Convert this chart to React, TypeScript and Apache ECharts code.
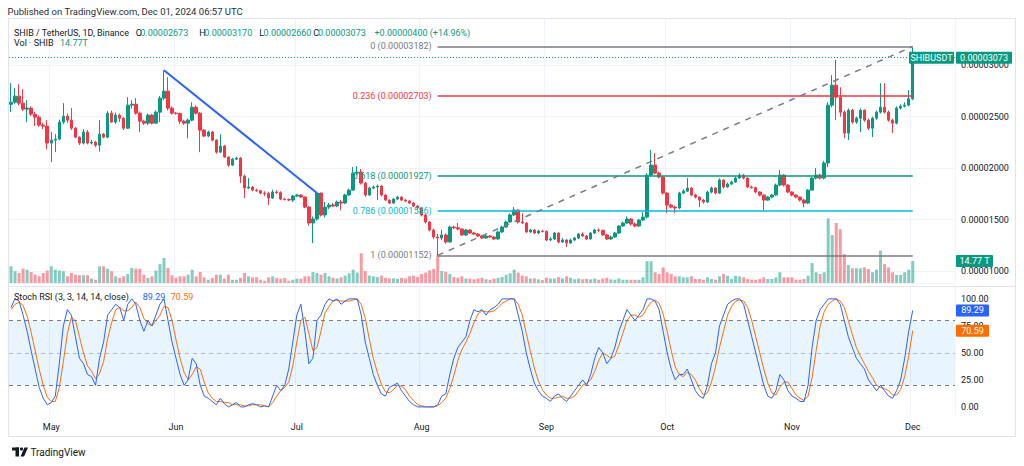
import React, { useEffect, useRef } from "react";
import * as echarts from "echarts";

// ---------- data (prices in units of 1e-8 USDT) ----------
const START_DATE = "2024-04-21";
const DAY_COUNT = 235; // visible time-scale slots (incl. empty right margin)
const MONTH_STARTS = ["2024-05-01", "2024-06-01", "2024-07-01", "2024-08-01", "2024-09-01", "2024-10-01", "2024-11-01", "2024-12-01"];
const MONTH_LABELS = ["May", "Jun", "Jul", "Aug", "Sep", "Oct", "Nov", "Dec"];

const OPENS = [
  2620, 2641, 2699, 2631, 2573, 2583, 2524, 2495, 2418, 2408,
  2243, 2272, 2282, 2447, 2505, 2466, 2388, 2301, 2243, 2350,
  2243, 2252, 2223, 2330, 2301, 2534, 2447, 2515, 2485, 2388,
  2612, 2621, 2534, 2456, 2437, 2515, 2437, 2544, 2680, 2748,
  2583, 2534, 2530, 2456, 2437, 2466, 2592, 2534, 2369, 2311,
  2350, 2272, 2155, 2214, 2107, 2029, 2087, 2097, 1922, 1806,
  1816, 1786, 1780, 1757, 1752, 1709, 1767, 1762, 1699, 1695,
  1689, 1728, 1738, 1718, 1621, 1466, 1505, 1757, 1544, 1621,
  1641, 1631, 1670, 1660, 1738, 1786, 1951, 1961, 1854, 1738,
  1806, 1816, 1825, 1738, 1689, 1660, 1699, 1718, 1689, 1680,
  1660, 1631, 1612, 1544, 1476, 1398, 1330, 1320, 1350, 1282,
  1427, 1420, 1408, 1350, 1398, 1369, 1359, 1340, 1320, 1340,
  1330, 1311, 1379, 1427, 1476, 1544, 1592, 1476, 1466, 1379,
  1398, 1369, 1388, 1385, 1301, 1311, 1369, 1282, 1301, 1272,
  1301, 1320, 1359, 1340, 1311, 1369, 1398, 1395, 1350, 1311,
  1330, 1369, 1437, 1466, 1505, 1456, 1437, 1495, 1524, 1932,
  2029, 1951, 1913, 1757, 1641, 1621, 1612, 1757, 1776, 1806,
  1738, 1718, 1689, 1670, 1767, 1806, 1757, 1884, 1816, 1845,
  1864, 1903, 1932, 1903, 1816, 1810, 1767, 1738, 1689, 1718,
  1738, 1835, 1932, 1835, 1767, 1738, 1718, 1689, 1660, 1786,
  1903, 1932, 1903, 2049, 2612, 2806, 2689, 2544, 2340, 2563,
  2447, 2485, 2563, 2466, 2388, 2485, 2544, 2592, 2544, 2466,
  2437, 2583, 2602, 2612, 2673,
];
const CLOSES = [
  2641, 2699, 2631, 2573, 2583, 2524, 2495, 2418, 2408, 2243,
  2272, 2282, 2447, 2505, 2466, 2388, 2301, 2243, 2350, 2243,
  2252, 2223, 2330, 2301, 2534, 2447, 2515, 2485, 2388, 2612,
  2621, 2534, 2456, 2437, 2515, 2437, 2544, 2680, 2748, 2583,
  2534, 2530, 2456, 2437, 2466, 2592, 2534, 2369, 2311, 2350,
  2272, 2155, 2214, 2107, 2029, 2087, 2097, 1922, 1806, 1816,
  1786, 1780, 1757, 1752, 1709, 1767, 1762, 1699, 1695, 1689,
  1728, 1738, 1718, 1621, 1466, 1505, 1757, 1544, 1621, 1641,
  1631, 1670, 1660, 1738, 1786, 1951, 1961, 1854, 1738, 1806,
  1816, 1825, 1738, 1689, 1660, 1699, 1718, 1689, 1680, 1660,
  1631, 1612, 1544, 1476, 1398, 1330, 1320, 1350, 1282, 1427,
  1420, 1408, 1350, 1398, 1369, 1359, 1340, 1320, 1340, 1330,
  1311, 1379, 1427, 1476, 1544, 1592, 1476, 1466, 1379, 1398,
  1369, 1388, 1385, 1301, 1311, 1369, 1282, 1301, 1272, 1301,
  1320, 1359, 1340, 1311, 1369, 1398, 1395, 1350, 1311, 1330,
  1369, 1437, 1466, 1505, 1456, 1437, 1495, 1524, 1932, 2029,
  1951, 1913, 1757, 1641, 1621, 1612, 1757, 1776, 1806, 1738,
  1718, 1689, 1670, 1767, 1806, 1757, 1884, 1816, 1845, 1864,
  1903, 1932, 1903, 1816, 1810, 1767, 1738, 1689, 1718, 1738,
  1835, 1932, 1835, 1767, 1738, 1718, 1689, 1660, 1786, 1903,
  1932, 1903, 2049, 2612, 2806, 2689, 2544, 2340, 2563, 2447,
  2485, 2563, 2466, 2388, 2485, 2544, 2592, 2544, 2466, 2437,
  2583, 2602, 2612, 2673, 3073,
];
const HIGHS = [
  2825, 2777, 2815, 2767, 2660, 2600, 2545, 2510, 2440, 2466,
  2350, 2330, 2470, 2631, 2530, 2583, 2400, 2310, 2379, 2370,
  2275, 2265, 2466, 2340, 2553, 2560, 2540, 2530, 2495, 2689,
  2660, 2680, 2550, 2470, 2530, 2525, 2560, 2700, 2951, 2884,
  2600, 2545, 2540, 2470, 2480, 2640, 2610, 2545, 2380, 2365,
  2360, 2280, 2330, 2225, 2115, 2100, 2110, 2107, 1935, 1903,
  1825, 1800, 1790, 1775, 1770, 1790, 1785, 1775, 1710, 1705,
  1740, 1750, 1745, 1725, 1630, 1530, 1765, 1760, 1670, 1660,
  1660, 1685, 1690, 1750, 1800, 2010, 2019, 1990, 1865, 1820,
  1830, 1840, 1835, 1745, 1695, 1710, 1730, 1725, 1700, 1690,
  1670, 1640, 1620, 1555, 1485, 1410, 1360, 1400, 1365, 1440,
  1440, 1466, 1415, 1410, 1405, 1380, 1370, 1345, 1350, 1350,
  1340, 1390, 1440, 1490, 1560, 1621, 1600, 1560, 1475, 1410,
  1405, 1400, 1400, 1395, 1330, 1380, 1375, 1320, 1310, 1315,
  1330, 1370, 1375, 1350, 1380, 1410, 1415, 1400, 1360, 1345,
  1380, 1445, 1480, 1530, 1515, 1470, 1505, 1570, 1950, 2175,
  2146, 1965, 1925, 1765, 1650, 1635, 1770, 1795, 1903, 1815,
  1750, 1725, 1700, 1780, 1820, 1815, 1900, 1890, 1860, 1880,
  1920, 1950, 1940, 1910, 1830, 1820, 1775, 1745, 1730, 1750,
  1850, 1981, 1940, 1845, 1775, 1745, 1725, 1700, 1795, 1915,
  2000, 1945, 2070, 2640, 2903, 3049, 2786, 2560, 2580, 2575,
  2500, 2580, 2570, 2480, 2500, 2560, 2825, 2825, 2560, 2480,
  2600, 2620, 2640, 2757, 3170,
];
const LOWS = [
  2544, 2625, 2610, 2555, 2447, 2505, 2408, 2400, 2380, 2184,
  2058, 2155, 2270, 2430, 2440, 2370, 2290, 2225, 2230, 2230,
  2230, 2205, 2160, 2290, 2290, 2440, 2430, 2450, 2370, 2380,
  2580, 2520, 2350, 2420, 2420, 2425, 2430, 2447, 2660, 2560,
  2520, 2520, 2430, 2420, 2291, 2455, 2520, 2155, 2300, 2300,
  2260, 2140, 2150, 2100, 2010, 2020, 2080, 1854, 1709, 1795,
  1775, 1770, 1745, 1730, 1641, 1700, 1750, 1690, 1685, 1680,
  1670, 1720, 1710, 1610, 1440, 1272, 1490, 1530, 1520, 1600,
  1620, 1620, 1592, 1650, 1730, 1780, 1930, 1840, 1720, 1730,
  1795, 1689, 1725, 1680, 1650, 1650, 1690, 1680, 1670, 1650,
  1620, 1600, 1530, 1460, 1385, 1310, 1152, 1300, 1265, 1275,
  1405, 1395, 1340, 1340, 1360, 1350, 1330, 1310, 1315, 1320,
  1300, 1305, 1370, 1420, 1470, 1535, 1460, 1455, 1370, 1370,
  1360, 1360, 1375, 1290, 1290, 1300, 1270, 1275, 1233, 1265,
  1290, 1310, 1330, 1300, 1305, 1360, 1380, 1340, 1300, 1300,
  1320, 1360, 1430, 1455, 1440, 1425, 1430, 1485, 1510, 1920,
  1940, 1900, 1745, 1563, 1610, 1563, 1600, 1745, 1770, 1725,
  1705, 1621, 1655, 1660, 1755, 1745, 1750, 1800, 1810, 1835,
  1855, 1895, 1890, 1805, 1800, 1755, 1725, 1592, 1680, 1705,
  1730, 1825, 1820, 1755, 1725, 1705, 1675, 1620, 1650, 1780,
  1890, 1890, 1890, 2010, 2590, 2466, 2500, 2291, 2272, 2430,
  2430, 2350, 2450, 2370, 2301, 2470, 2530, 2530, 2450, 2340,
  2425, 2570, 2590, 2600, 2660,
];
// volume in trillions of SHIB
const VOLUMES = [
  11.2, 7.9, 6.7, 9.6, 8.9, 7.4, 5.6, 4.5, 6.7, 8.3,
  11.2, 8.9, 8.3, 7.9, 4.5, 6.7, 5.6, 5.2, 5.2, 5.2,
  2.9, 2.2, 11.2, 11.2, 9.6, 7.9, 4.5, 3.4, 4.5, 6.0,
  10.1, 9.6, 9.6, 5.6, 3.4, 4.5, 8.3, 12.7, 16.8, 10.1,
  5.2, 3.4, 4.5, 4.5, 5.6, 8.9, 4.5, 7.4, 3.8, 2.2,
  3.4, 5.6, 5.6, 2.9, 5.6, 2.2, 2.2, 3.4, 6.7, 4.5,
  3.8, 3.8, 2.2, 1.5, 3.8, 4.5, 3.4, 2.9, 3.4, 1.5,
  2.2, 2.9, 2.9, 4.5, 4.5, 7.4, 6.7, 5.6, 6.7, 4.5,
  3.5, 3.0, 3.8, 5.0, 6.5, 9.0, 7.0, 20.0, 8.0, 5.0,
  4.5, 4.0, 5.0, 3.5, 3.0, 3.2, 2.8, 3.5, 3.0, 4.5,
  5.0, 4.0, 6.0, 7.0, 8.5, 9.5, 19.0, 8.0, 7.5, 6.0,
  4.0, 3.5, 4.5, 3.0, 3.0, 2.5, 3.0, 3.5, 2.5, 2.2,
  3.0, 3.5, 4.0, 5.5, 6.5, 9.0, 7.0, 5.0, 4.5, 3.0,
  3.2, 2.5, 2.0, 3.5, 3.0, 3.0, 4.0, 3.0, 4.5, 3.5,
  2.5, 3.0, 2.5, 2.8, 2.5, 3.0, 2.2, 3.0, 3.5, 2.5,
  2.2, 3.0, 2.2, 2.2, 2.2, 2.2, 2.2, 3.8, 14.6, 14.6,
  7.2, 6.0, 10.5, 7.2, 6.0, 4.5, 4.5, 3.8, 3.8, 4.5,
  2.7, 2.7, 2.2, 3.8, 2.7, 2.2, 4.5, 6.0, 4.9, 2.7,
  4.9, 4.5, 3.8, 2.7, 2.2, 2.2, 2.7, 3.8, 2.7, 2.7,
  3.8, 7.2, 3.8, 3.8, 3.8, 2.2, 2.2, 2.7, 4.9, 13.4,
  7.2, 6.0, 7.2, 43.4, 32.2, 40.3, 36.2, 19.5, 12.1, 9.9,
  9.9, 9.9, 10.5, 9.4, 7.2, 8.9, 21.7, 12.7, 10.5, 7.2,
  5.4, 5.4, 7.2, 8.9, 14.77,
];
const STOCH_K = [
  92, 100, 98, 85, 70, 52, 35, 18, 8, 2,
  4, 10, 40, 75, 90, 85, 65, 45, 40, 30,
  28, 20, 45, 60, 85, 90, 95, 92, 80, 95,
  100, 95, 80, 70, 80, 75, 85, 95, 100, 80,
  60, 45, 30, 20, 25, 45, 40, 20, 10, 8,
  5, 2, 8, 3, 0, 2, 4, 0, 0, 2,
  3, 2, 0, 1, 0, 10, 20, 15, 20, 35,
  60, 85, 95, 70, 40, 45, 80, 85, 95, 100,
  98, 100, 95, 98, 100, 100, 100, 85, 60, 45,
  30, 20, 12, 10, 18, 20, 22, 15, 10, 5,
  2, 0, 0, 0, 0, 0, 2, 10, 12, 30,
  45, 55, 60, 65, 80, 90, 88, 90, 85, 90,
  92, 95, 100, 100, 100, 100, 85, 70, 50, 35,
  22, 15, 10, 8, 5, 10, 12, 8, 5, 10,
  15, 20, 25, 20, 30, 45, 55, 50, 40, 45,
  55, 70, 80, 90, 85, 80, 85, 90, 100, 100,
  98, 90, 70, 50, 35, 25, 30, 30, 35, 25,
  15, 10, 8, 20, 40, 50, 75, 85, 95, 98,
  100, 100, 95, 80, 65, 50, 35, 20, 10, 8,
  15, 30, 25, 15, 10, 8, 5, 5, 20, 55,
  80, 90, 95, 100, 100, 100, 95, 80, 65, 55,
  45, 40, 35, 25, 20, 15, 20, 15, 10, 8,
  15, 25, 45, 70, 89.29,
];
const STOCH_D = [
  90, 95, 97, 94, 84, 69, 52, 35, 20, 9,
  5, 5, 18, 42, 68, 83, 80, 65, 50, 38,
  33, 26, 31, 42, 63, 78, 90, 92, 89, 89,
  92, 97, 92, 82, 77, 75, 80, 85, 93, 92,
  80, 62, 45, 32, 25, 30, 37, 35, 23, 13,
  8, 5, 5, 4, 4, 2, 2, 2, 1, 1,
  2, 2, 2, 1, 0, 4, 10, 15, 18, 23,
  38, 60, 80, 83, 68, 52, 55, 70, 87, 93,
  98, 99, 98, 98, 98, 99, 100, 95, 82, 63,
  45, 32, 21, 14, 13, 16, 20, 19, 16, 10,
  6, 2, 1, 0, 0, 0, 1, 4, 8, 17,
  29, 43, 53, 60, 68, 78, 86, 89, 88, 88,
  89, 92, 96, 98, 100, 100, 95, 85, 68, 52,
  36, 24, 16, 11, 8, 8, 9, 10, 8, 8,
  10, 15, 20, 22, 25, 33, 43, 50, 48, 45,
  47, 57, 68, 80, 85, 85, 83, 85, 92, 97,
  99, 96, 86, 70, 52, 37, 30, 28, 32, 30,
  25, 17, 11, 13, 23, 37, 55, 70, 85, 93,
  98, 99, 98, 92, 80, 65, 50, 35, 22, 13,
  11, 18, 23, 23, 17, 11, 8, 6, 10, 27,
  52, 75, 88, 95, 98, 100, 98, 92, 80, 67,
  55, 47, 40, 33, 27, 20, 18, 17, 15, 11,
  11, 16, 28, 47, 70.59,
];

const FIB_RATIOS = ["0", "0.236", "0.618", "0.786", "1"];
const FIB_PRICES = [3182, 2703, 1927, 1586, 1152];
const FIB_START = 106; // index of the Aug 5 swing low
const FIB_END = 224;
const BLUE_TREND = [[38, 2951], [76, 1757]];
const DASH_TREND = [[106, 1152], [224, 3182]];
const STOCH_TICKS = [0, 25, 50, 75, 100];

// ---------- styles ----------
const UP = "#089981";
const DOWN = "#f23645";
const TEXT = "#131722";
const GRID_LINE = "#f0f3fa";
const FONT = "Roboto, 'Noto Sans', sans-serif";
const FIB_COLORS = ["#787b86", "#f23645", "#089981", "#00bcd4", "#787b86"];

const fmt = (v: number) => (v / 1e8).toFixed(8);

function buildDates(): string[] {
  const out: string[] = [];
  const t0 = Date.parse(START_DATE + "T00:00:00Z");
  for (let k = 0; k < DAY_COUNT; k++) {
    out.push(new Date(t0 + k * 86400000).toISOString().slice(0, 10));
  }
  return out;
}

export default function App() {
  const ref = useRef<HTMLDivElement>(null);
  useEffect(() => {
    const el = ref.current!;
    const chart = echarts.init(el, undefined, { renderer: "svg" });
    const cats = buildDates();
    const monthSet = new Set(MONTH_STARTS);
    const last = CLOSES.length - 1;

    const fibLines = FIB_PRICES.map((p, k) => [
      {
        coord: [cats[FIB_START], p],
        lineStyle: { color: FIB_COLORS[k], width: 1.5, type: "solid" },
        label: {
          show: true,
          position: "start",
          distance: 6,
          formatter: `${FIB_RATIOS[k]} (${fmt(p)})`,
          color: FIB_COLORS[k],
          fontSize: 9,
          fontFamily: FONT,
        },
      },
      { coord: [cats[FIB_END], p] },
    ]);

    const option: any = {
      animation: false,
      backgroundColor: "#ffffff",
      grid: [
        { left: 9, right: 69, top: 18, height: 265 },
        { left: 9, right: 69, top: 287, height: 128 },
      ],
      xAxis: [
        {
          type: "category",
          gridIndex: 0,
          data: cats,
          axisLine: { show: false },
          axisTick: { show: false },
          axisLabel: { show: false },
          splitLine: { show: true, interval: (_i: number, v: string) => monthSet.has(v), lineStyle: { color: GRID_LINE } },
        },
        {
          type: "category",
          gridIndex: 1,
          data: cats,
          axisLine: { show: false },
          axisTick: { show: false },
          axisLabel: {
            show: true,
            interval: (_i: number, v: string) => monthSet.has(v),
            formatter: (v: string) => MONTH_LABELS[MONTH_STARTS.indexOf(v)] ?? "",
            color: TEXT,
            fontSize: 9,
            fontFamily: FONT,
            margin: 7,
          },
          splitLine: { show: true, interval: (_i: number, v: string) => monthSet.has(v), lineStyle: { color: GRID_LINE } },
        },
      ],
      yAxis: [
        {
          type: "value",
          gridIndex: 0,
          position: "right",
          min: 883,
          max: 3459,
          splitNumber: 5,
          axisLine: { show: false },
          axisTick: { show: false },
          axisLabel: { formatter: fmt, showMinLabel: false, showMaxLabel: false, color: TEXT, fontSize: 9, fontFamily: FONT, margin: 6 },
          splitLine: { show: true, lineStyle: { color: GRID_LINE } },
        },
        { type: "value", gridIndex: 0, min: 0, max: 178, show: false, splitLine: { show: false } },
        {
          type: "value",
          gridIndex: 1,
          position: "right",
          min: -7.5,
          max: 111,
          axisLine: { show: false },
          axisTick: { show: false },
          axisLabel: {
            customValues: STOCH_TICKS,
            formatter: (v: number) => v.toFixed(2),
            color: TEXT,
            fontSize: 9,
            fontFamily: FONT,
            margin: 6,
          },
          splitLine: { show: false },
        },
      ],
      series: [
        {
          type: "bar",
          xAxisIndex: 0,
          yAxisIndex: 1,
          barWidth: 3,
          z: 1,
          data: VOLUMES.map((v, i) => ({
            value: v,
            itemStyle: { color: CLOSES[i] >= OPENS[i] ? "rgba(8,153,129,0.5)" : "rgba(242,54,69,0.5)" },
          })),
        },
        {
          type: "candlestick",
          xAxisIndex: 0,
          yAxisIndex: 0,
          barWidth: 3,
          z: 3,
          data: OPENS.map((o, i) => [o, CLOSES[i], LOWS[i], HIGHS[i]]),
          itemStyle: { color: UP, color0: DOWN, borderColor: UP, borderColor0: DOWN, borderWidth: 1 },
          markLine: {
            silent: true,
            symbol: ["none", "none"],
            animation: false,
            data: [
              ...fibLines,
              [
                { coord: [cats[DASH_TREND[0][0]], DASH_TREND[0][1]], lineStyle: { color: "#787b86", width: 1.5, type: [6, 6] }, label: { show: false } },
                { coord: [cats[DASH_TREND[1][0]], DASH_TREND[1][1]] },
              ],
              [
                { coord: [cats[BLUE_TREND[0][0]], BLUE_TREND[0][1]], lineStyle: { color: "#2962ff", width: 2, type: "solid" }, label: { show: false } },
                { coord: [cats[BLUE_TREND[1][0]], BLUE_TREND[1][1]] },
              ],
              { yAxis: CLOSES[last], lineStyle: { color: UP, width: 1, type: [1, 2] }, label: { show: false } },
            ],
          },
        },
        {
          type: "line",
          xAxisIndex: 1,
          yAxisIndex: 2,
          data: STOCH_D,
          symbol: "none",
          lineStyle: { color: "#ff6d00", width: 1 },
          z: 3,
          markArea: {
            silent: true,
            itemStyle: { color: "rgba(33,150,243,0.1)" },
            data: [[{ yAxis: 20 }, { yAxis: 80 }]],
          },
          markLine: {
            silent: true,
            symbol: ["none", "none"],
            label: { show: false },
            data: [
              { yAxis: 80, lineStyle: { color: "#787b86", width: 1, type: [4, 4] } },
              { yAxis: 50, lineStyle: { color: "rgba(120,123,134,0.5)", width: 1, type: [4, 4] } },
              { yAxis: 20, lineStyle: { color: "#787b86", width: 1, type: [4, 4] } },
            ],
          },
        },
        {
          type: "line",
          xAxisIndex: 1,
          yAxisIndex: 2,
          data: STOCH_K,
          symbol: "none",
          lineStyle: { color: "#2962ff", width: 1 },
          z: 4,
        },
      ],
    };
    chart.setOption(option);

    const py = (axis: number, v: number) => chart.convertToPixel({ yAxisIndex: axis }, v) as number;
    const yLast = py(0, CLOSES[last]);
    const yVol = py(1, VOLUMES[last]);
    const yK = py(2, STOCH_K[last]);
    const yD = py(2, STOCH_D[last]);

    const txt = (x: number, y: number, text: string, fill: string, size = 9, align = "left", weight = "normal") => ({
      type: "text",
      z: 100,
      style: { x, y, text, fill, font: `${weight} ${size}px ${FONT}`, textAlign: align, textVerticalAlign: "middle" },
    });
    const box = (x: number, y: number, w: number, h: number, fill: string) => ({
      type: "rect",
      z: 99,
      shape: { x, y, width: w, height: h, r: 1 },
      style: { fill },
    });

    const chg = CLOSES[last] - OPENS[last];
    const pct = (chg / OPENS[last]) * 100;
    const hy = 32.7;
    const graphics: any[] = [
      { type: "rect", z: 98, shape: { x: 8.5, y: 18.5, width: 1007, height: 418 }, style: { fill: "none", stroke: "#e0e3eb", lineWidth: 1 } },
      { type: "line", z: 98, shape: { x1: 8.5, y1: 286.5, x2: 1015.5, y2: 286.5 }, style: { stroke: "#e0e3eb", lineWidth: 1 } },
      txt(7.5, 11.7, "Published on TradingView.com, Dec 01, 2024 06:57 UTC", "#2a2e39", 9.5),
      txt(14, hy, "SHIB / TetherUS, 1D, Binance", TEXT),
      txt(135.7, hy, "O", TEXT),
      txt(140.3, hy, fmt(OPENS[last]), UP),
      txt(199.3, hy, "H", TEXT),
      txt(204.3, hy, fmt(HIGHS[last]), UP),
      txt(259.3, hy, "L", TEXT),
      txt(263.5, hy, fmt(LOWS[last]), UP),
      txt(313.3, hy, "C", TEXT),
      txt(317.9, hy, fmt(CLOSES[last]), UP),
      txt(374.5, hy, `${chg >= 0 ? "+" : ""}${fmt(chg)} (${chg >= 0 ? "+" : ""}${pct.toFixed(2)}%)`, UP),
      txt(14, 42.7, "Vol · SHIB", TEXT),
      txt(60, 42.7, `${VOLUMES[last].toFixed(2)}T`, UP),
      txt(14, 297.3, "Stoch RSI (3, 3, 14, 14, close)", TEXT),
      txt(142.7, 297.3, STOCH_K[last].toFixed(2), "#2962ff"),
      txt(170.7, 297.3, STOCH_D[last].toFixed(2), "#ff6d00"),
      // price tags
      box(909, yLast - 6, 45, 12, UP),
      txt(931.5, yLast, "SHIBUSDT", "#ffffff", 9, "center"),
      box(956, yLast - 6, 56, 12, UP),
      txt(984, yLast, fmt(CLOSES[last]), "#ffffff", 9, "center"),
      box(956, yVol - 6, 37, 12, UP),
      txt(974.5, yVol, `${VOLUMES[last].toFixed(2)} T`, "#ffffff", 9, "center"),
      box(956, yK - 6, 33, 12, "#2962ff"),
      txt(972.5, yK, STOCH_K[last].toFixed(2), "#ffffff", 9, "center"),
      box(956, yD - 6, 33, 12, "#ff6d00"),
      txt(972.5, yD, STOCH_D[last].toFixed(2), "#ffffff", 9, "center"),
      // TradingView logo
      { type: "rect", z: 100, shape: { x: 12, y: 447.5, width: 7, height: 3 }, style: { fill: TEXT } },
      { type: "rect", z: 100, shape: { x: 15.5, y: 447.5, width: 3.5, height: 9 }, style: { fill: TEXT } },
      { type: "circle", z: 100, shape: { cx: 21.5, cy: 449, r: 1.6 }, style: { fill: TEXT } },
      { type: "polygon", z: 100, shape: { points: [[20.5, 456.5], [24.5, 447.5], [28, 447.5], [24, 456.5]] }, style: { fill: TEXT } },
      txt(30.5, 452.2, "TradingView", TEXT, 10),
    ];
    chart.setOption({ graphic: graphics });

    return () => chart.dispose();
  }, []);
  return <div ref={ref} style={{ position: "fixed", left: 0, top: 0, width: 1024, height: 466, background: "#fff" }} />;
}
